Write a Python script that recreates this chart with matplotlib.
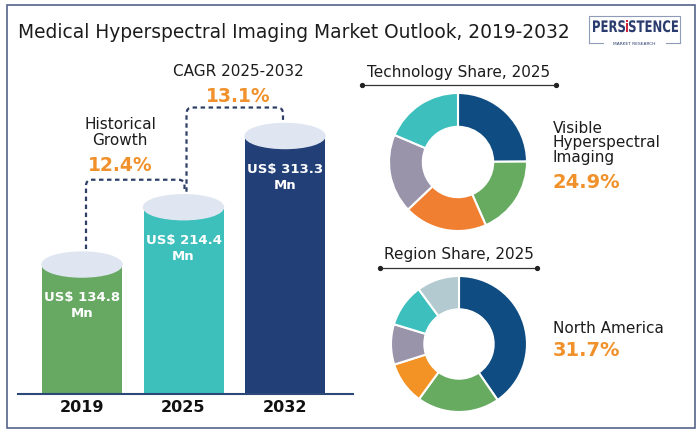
import matplotlib
matplotlib.use('Agg')
import matplotlib.pyplot as plt
import numpy as np
from matplotlib.font_manager import FontProperties
from matplotlib.patches import Ellipse, Rectangle, PathPatch
from matplotlib.path import Path
from matplotlib.textpath import TextPath
from matplotlib.transforms import Affine2D

# ---- data ----
title = 'Medical Hyperspectral Imaging Market Outlook, 2019-2032'
years = ['2019', '2025', '2032']
market_value = [134.8, 214.4, 313.3]
value_labels = ['US$ 134.8\nMn', 'US$ 214.4\nMn', 'US$ 313.3\nMn']
hist_cagr = '12.4%'
fcst_cagr = '13.1%'

tech_share = [24.9, 18.5, 19.5, 18.5, 18.6]
tech_lead = ('Visible\nHyperspectral\nImaging', '24.9%')
region_share = [40.4, 19.6, 10.1, 9.6, 10.2, 10.1]
region_lead = ('North America', '31.7%')

# ---- styles ----
bar_colors = ['#67a862', '#3dbfbc', '#223f77']
cap_color = '#dfe6f1'
tech_colors = ['#0f4c81', '#67ab61', '#f07f31', '#9a94ab', '#3dbfbd']
region_colors = ['#0f4c81', '#67ab61', '#f39325', '#9a94ab', '#3dbfbd', '#b3cbd0']
orange = '#f0912b'
navy = '#2e3f66'
txt = '#1c1c1c'

W, H = 700, 435
fig = plt.figure(figsize=(7, 4.35), dpi=100)


def box(x, y, w, h):
    # pixel box (from top-left) -> figure fraction
    return [x / W, 1 - (y + h) / H, w / W, h / H]


bg = fig.add_axes([0, 0, 1, 1])
bg.set_xlim(0, W)
bg.set_ylim(H, 0)
bg.axis('off')
bg.add_patch(Rectangle((7, 6), 688, 423, fill=False, ec='#55648a', lw=1.2))
bg.text(18, 32, title, fontsize=13.4, va='center', color=txt)

# logo: condensed lettering via scaled text paths
lc = '#8f9bb8'
bg.plot([589, 589, 680, 680], [44, 17, 17, 44], color=lc, lw=0.8)
bg.plot([589, 603], [44, 44], color=lc, lw=0.8)
bg.plot([666, 680], [44, 44], color=lc, lw=0.8)
fp = FontProperties(family='DejaVu Sans', weight='bold')
parts = [('PERS', '#2a3c6e'), ('i', '#d0243a'), ('STENCE', '#2a3c6e')]
tps = [TextPath((0, 0), s, size=20, prop=fp) for s, _ in parts]
gap = 1.6
offs, pos = [], 0.0
for tp in tps:
    ext = tp.get_extents()
    offs.append(pos - ext.x0)
    pos += ext.width + gap
raw_w = pos - gap
cap = tps[0].get_extents().height
sx, sy = 85 / raw_w, 12 / cap
for tp, (_, col), off in zip(tps, parts, offs):
    tr = Affine2D().translate(off, 0).scale(sx, -sy).translate(593, 33)
    bg.add_patch(PathPatch(tr.transform_path(tp), color=col, lw=0))
bg.text(634.5, 44, 'MARKET RESEARCH', fontsize=3.2, ha='center', va='center', color='#2a3c6e')

# ---- bar (cylinder) chart ----
ax = fig.add_axes(box(18, 60, 335, 335))
px_x, px_y, base = 101.5, 0.72, -45
ax.set_xlim(-64 / px_x, 271 / px_x)
ax.set_ylim(base, base + 335 / px_y)
ax.axis('off')
x = np.arange(len(years))
vals = np.array(market_value)
ax.bar(x, vals - base, bottom=base, width=80 / px_x, color=bar_colors, zorder=2)
for xi, v, lab, yr in zip(x, vals, value_labels, years):
    ax.add_patch(Ellipse((xi, v), 80 / px_x, 25 / px_y, color=cap_color, zorder=3))
    ax.text(xi, v - 40 / px_y, lab, ha='center', va='center', color='white',
            fontsize=9.5, fontweight='bold', linespacing=1.3, zorder=4)
    ax.text(xi, base - 13 / px_y, yr, ha='center', va='center', fontsize=11.5,
            fontweight='bold', color='#111111')
ax.axhline(base, color='#2c4878', lw=1.5, clip_on=False, zorder=5)


def connector(x0, y0, x1, y1, level):
    rx, ry = 6 / px_x, 6 / px_y
    verts = [(x0, y0), (x0, level - ry), (x0, level), (x0 + rx, level),
             (x1 - rx, level), (x1, level), (x1, level - ry), (x1, y1)]
    codes = [Path.MOVETO, Path.LINETO, Path.CURVE3, Path.CURVE3,
             Path.LINETO, Path.CURVE3, Path.CURVE3, Path.LINETO]
    ax.add_patch(PathPatch(Path(verts, codes), fill=False, ec=navy, lw=1.6,
                           ls=(0, (2, 1.6)), clip_on=False))


half = 12.5 / px_y
c1_start = vals[0] + half + 3 / px_y
c1_end = vals[1] + half + 3 / px_y
level1 = vals[1] + half + 15 / px_y
level2 = vals[2] + half + 16 / px_y
connector(4 / px_x, c1_start, 1 + 1 / px_x, c1_end, level1)
connector(1 + 3 / px_x, c1_end, 2 - 2 / px_x, vals[2] + half + 3 / px_y, level2)

ax.annotate('Historical\nGrowth', xy=(0.374, level1), xytext=(0, 34.5), textcoords='offset points',
            ha='center', va='center', fontsize=11, linespacing=1.1, color=txt)
ax.annotate(hist_cagr, xy=(0.374, level1), xytext=(0, 10.8), textcoords='offset points',
            ha='center', va='center', fontsize=13.5, fontweight='bold', color=orange)
ax.annotate('CAGR 2025-2032', xy=(1.537, level2), xytext=(0, 26.6), textcoords='offset points',
            ha='center', va='center', fontsize=11, color=txt)
ax.annotate(fcst_cagr, xy=(1.537, level2), xytext=(0, 8.8), textcoords='offset points',
            ha='center', va='center', fontsize=13.5, fontweight='bold', color=orange)

# ---- donuts ----
def donut(cx, cy, r, shares, colors):
    a = fig.add_axes(box(cx - r * 1.03, cy - r * 1.03, 2 * r * 1.03, 2 * r * 1.03))
    a.pie(shares, colors=colors, startangle=90, counterclock=False, radius=1,
          wedgeprops=dict(width=0.49, edgecolor='white', linewidth=1.5))
    a.set_xlim(-1.03, 1.03)
    a.set_ylim(-1.03, 1.03)
    a.set_aspect('equal')
    a.axis('off')


def section(title_txt, ty, lx0, lx1):
    bg.text((lx0 + lx1) / 2, ty, title_txt, ha='center', va='center', fontsize=11, color=txt)
    bg.plot([lx0, lx1], [ty + 14, ty + 14], color='#333333', lw=0.9)
    bg.plot([lx0, lx1], [ty + 14, ty + 14], 'o', ms=2.8, color='#222222')


section('Technology Share, 2025', 72, 362, 556)
donut(458, 163, 69, tech_share, tech_colors)
bg.text(553, 143, tech_lead[0], va='center', fontsize=11, linespacing=0.95, color=txt)
bg.text(553, 183, tech_lead[1], va='center', fontsize=14, fontweight='bold', color=orange)

section('Region Share, 2025', 255, 380, 537)
donut(459, 345, 68, region_share, region_colors)
bg.text(553, 329, region_lead[0], va='center', fontsize=11, color=txt)
bg.text(553, 351, region_lead[1], va='center', fontsize=14, fontweight='bold', color=orange)

fig.savefig('out.png', dpi=100)
